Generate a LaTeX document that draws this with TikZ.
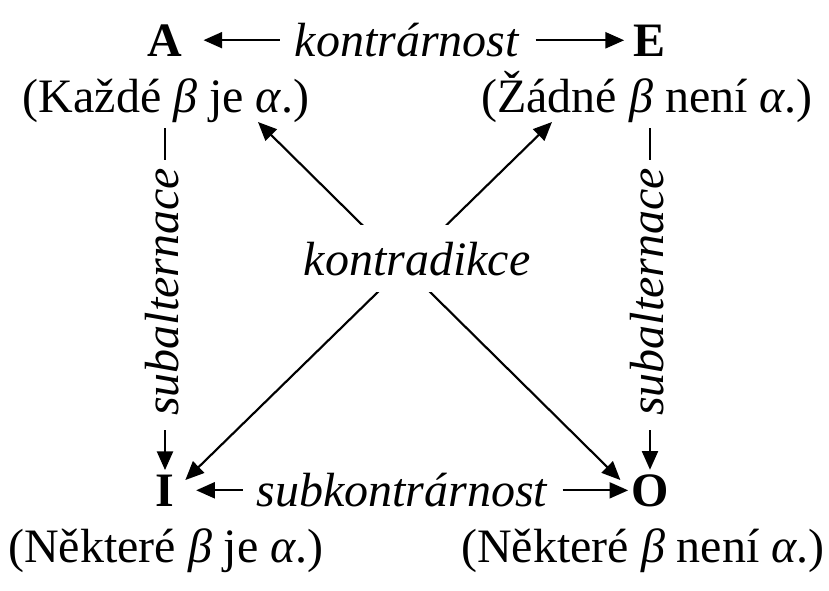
\documentclass[tikz,border=0pt]{standalone}
\usepackage{fontspec}
\setmainfont{Liberation Serif}
\usetikzlibrary{arrows.meta}
\newcommand{\sqfont}{\fontsize{36}{43}\selectfont}
\tikzset{every picture/.style={line width=0.75pt}}
\tikzset{
  >={Triangle[length=14pt,width=12pt]},
  txt/.style={inner sep=0pt, anchor=base, font=\sqfont},
  vrch/.style={txt, font=\sqfont\bfseries},
  vztah/.style={txt, font=\sqfont\itshape},
  spoj/.style={line width=1.6pt}
}

\begin{document}
\begin{tikzpicture}[x=0.75pt,y=0.75pt,yscale=-1,xscale=1]
\useasboundingbox (0,0) rectangle (829,590);

% Text Node
\draw (165,56) node [vrch] (A) {A};
% Text Node
\draw (166,112) node [txt] (kA) {(Každé \textit{β} je \textit{α}.)};
% Text Node
\draw (650,56) node [vrch] (E) {E};
% Text Node
\draw (647,112) node [txt] (kE) {(Žádné \textit{β} není \textit{α}.)};
% Text Node
\draw (165,506) node [vrch] (I) {I};
% Text Node
\draw (166,562) node [txt] (kI) {(Některé \textit{β} je \textit{α}.)};
% Text Node
\draw (650,506) node [vrch] (O) {O};
% Text Node
\draw (643,562) node [txt] (kO) {(Některé \textit{β} není \textit{α}.)};

% Text Node
\draw (407,56) node [vztah] (kon) {kontrárnost};
% Text Node
\draw (402,506) node [vztah] (sub) {subkontrárnost};
% Text Node
\draw (162,292) node [vztah, anchor=center, rotate=90] (subL) {subalternace};
% Text Node
\draw (647,292) node [vztah, anchor=center, rotate=90] (subR) {subalternace};

%Straight Lines
\draw [->, spoj, shorten <=11pt, shorten >=15.5pt] (kon.west |- A.east) -- (A.east);
\draw [->, spoj, shorten <=12pt, shorten >=7pt] (kon.east |- E.west) -- (E.west);
\draw [->, spoj, shorten <=10pt, shorten >=16pt] (sub.west |- I.east) -- (I.east);
\draw [->, spoj, shorten <=11pt, shorten >=2pt] (sub.east |- O.west) -- (O.west);

%Straight Lines
\draw [spoj, shorten <=4pt, shorten >=6pt] (A |- kA.south) -- (A |- subL.east);
\draw [->, spoj, shorten <=10.5pt, shorten >=3pt] (I |- subL.west) -- (I.north);
\draw [spoj, shorten <=4pt, shorten >=6pt] (E |- kE.south) -- (E |- subR.east);
\draw [->, spoj, shorten <=10.5pt, shorten >=3pt] (O |- subR.west) -- (O.north);

%Straight Lines
\coordinate (dA) at (258,122);
\coordinate (dE) at (552,122);
\draw [<->, spoj, shorten >=11pt] (dA) -- (O.west);
\draw [<->, spoj, shorten >=11pt] (dE) -- (I.east);

% Text Node
\draw (417,275) node [vztah, fill=white, inner xsep=2pt, inner ysep=12.5pt] (kd) {kontradikce};

\end{tikzpicture}
\end{document}
